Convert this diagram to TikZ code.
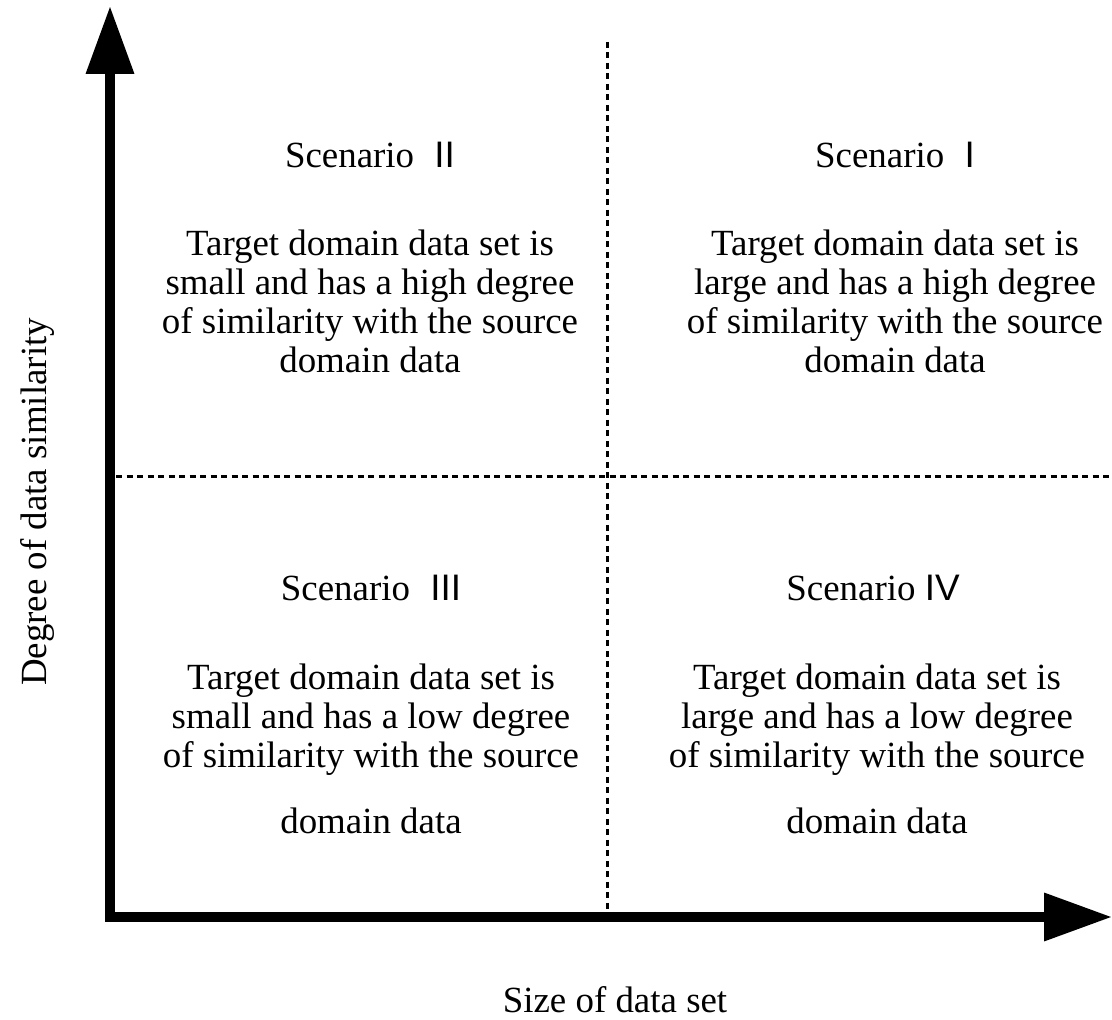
\documentclass[tikz,border=0pt]{standalone}
\usepackage{fontspec}
\setmainfont{Liberation Serif}
\newfontfamily\numfont{Liberation Sans}
\usetikzlibrary{arrows.meta}
\tikzset{>=latex}
\tikzset{
    axis/.style={line width=1mm, line join=miter,
        {Triangle[length=6.8mm,width=4.6mm]}-{Triangle[length=6.8mm,width=4.6mm]}},
    divider/.style={line width=0.3mm, dash pattern=on 0.6mm off 0.45mm},
    scen/.style={font=\fontsize{10.5}{11.1}\selectfont, inner sep=0pt},
    desc/.style={font=\fontsize{10.5}{11.1}\selectfont, align=center, inner sep=0pt}
}

\begin{document}
\begin{tikzpicture}
    \useasboundingbox (0,0) rectangle (11.12,10.19);

    \coordinate (O) at (1.10,1.02);
    \coordinate (Ytip) at (1.10,10.13);
    \coordinate (Xtip) at (11.12,1.02);

    \coordinate (Vtop) at (6.07,9.77);
    \coordinate (Vbot) at (6.07,1.07);
    \coordinate (Hleft) at (1.16,5.42);
    \coordinate (Hright) at (11.12,5.42);

    \draw[divider](Vtop)--(Vbot);
    \draw[divider](Hleft)--(Hright);
    \draw[axis](Ytip)|-(Xtip);

    \node[rotate=90,font=\fontsize{10.5}{11.1}\selectfont] (ylab) at (0.37,5.17){Degree of data similarity};
    \node[font=\fontsize{10.5}{11.1}\selectfont] (xlab) at (6.15,0.19){Size of data set};

    \node[scen] (s2) at (3.70,8.64){Scenario\hspace{0.55em}{\numfont II}};
    \node[scen] (s1) at (8.95,8.64){Scenario\hspace{0.55em}{\numfont I}};
    \node[scen] (s3) at (3.71,4.31){Scenario\hspace{0.55em}{\numfont III}};
    \node[scen] (s4) at (8.73,4.31){Scenario\hspace{0.25em}{\numfont IV}};

    \node[desc] (d2) at (3.70,7.18){Target domain data set is\\small and has a high degree\\of similarity with the source\\domain data};
    \node[desc] (d1) at (8.95,7.18){Target domain data set is\\large and has a high degree\\of similarity with the source\\domain data};
    \node[desc] (d3) at (3.71,2.70){Target domain data set is\\small and has a low degree\\of similarity with the source\\[7.5pt]domain data};
    \node[desc] (d4) at (8.77,2.70){Target domain data set is\\large and has a low degree\\of similarity with the source\\[7.5pt]domain data};

\end{tikzpicture}
\end{document}
